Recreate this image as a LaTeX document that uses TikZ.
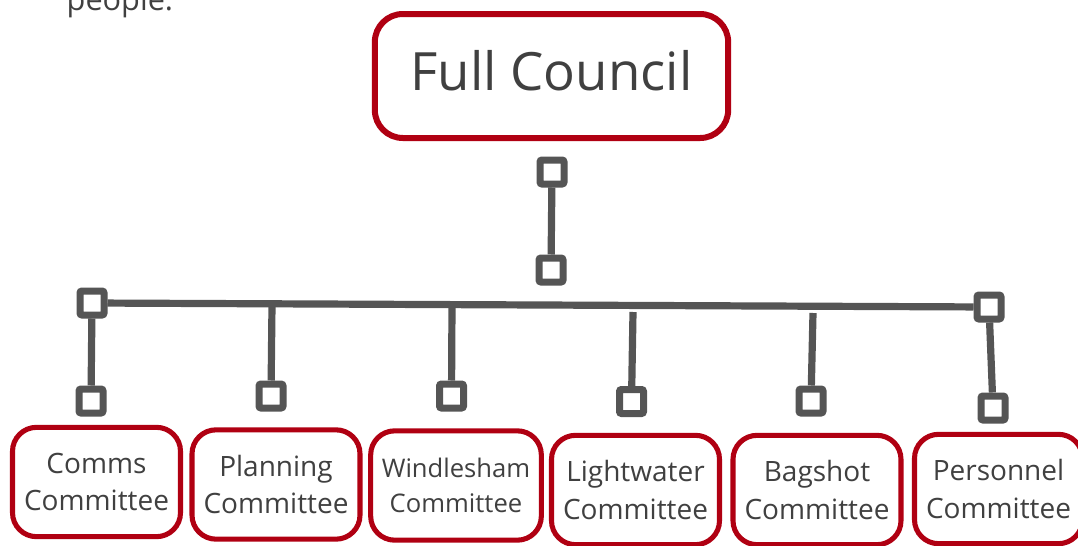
\documentclass[tikz,border=0pt]{standalone}
\usepackage{fontspec}
\setmainfont{Open Sans}
\usetikzlibrary{positioning}
\definecolor{councilred}{RGB}{176,0,18}
\definecolor{linegray}{RGB}{85,85,85}
\definecolor{textgray}{RGB}{64,64,64}

\begin{document}
\begin{tikzpicture}[x=0.75pt,y=-0.75pt,
		box/.style={draw=councilred, line width=3.8pt, rounded corners=18pt, fill=white, text=textgray, align=center, inner sep=0pt, minimum width=126pt, minimum height=82pt, font=\fontsize{21}{28}\selectfont},
		council/.style={box, line width=4.5pt, rounded corners=21pt, minimum width=265pt, minimum height=93pt, text depth=8pt, font=\fontsize{39.6}{48}\selectfont},
		sq/.style={draw=linegray, fill=white, line width=5.25pt, rounded corners=1.5pt, minimum size=18pt, inner sep=0pt},
		link/.style={draw=linegray, line width=5.4pt}]
		\useasboundingbox (0,0) rectangle (1078,546);
		% text cut off above the chart
		\node[anchor=base west, text=textgray, font=\fontsize{23}{28}\selectfont] (people) at (62,11) {people.};
		\node[council] (full) at (551.5,76) {Full Council};
		% committees
		\foreach \n/\x/\y/\t in {comms/96.5/482/{Comms\\Committee}, planning/276/484.5/{Planning\\Committee}, lightwater/635.5/490/{Lightwater\\Committee}, bagshot/817/490/{Bagshot\\Committee}, personnel/998.5/489/{Personnel\\Committee}}
			\node[box] (\n) at (\x,\y) {\t};
		\node[box, minimum width=128pt, font=\fontsize{19.2}{26}\selectfont] (windlesham) at (456,485.5) {Windlesham\\Committee};
		% connector squares
		\foreach \n/\x/\y in {t1/552/172, t2/551/270, bl/92/303, br/989/307, s1/91/401, s2/271/396, s3/451.5/396, s4/631.5/401.5, s5/811/401, s6/993/408}
			\node[sq] (\n) at (\x,\y) {};
		\coordinate (bar2) at (272,305);
		\coordinate (bar3) at (452,305);
		\coordinate (bar4) at (633,312);
		\coordinate (bar5) at (813,313);
		\draw[link] (t1) -- (t2);
		\draw[link] (bl) -- (br);
		\draw[link] (bl) -- (s1);
		\draw[link] (br) -- (s6);
		\foreach \i in {2,3,4,5}
			\draw[link] (bar\i) -- (s\i);
	\end{tikzpicture}
\end{document}
